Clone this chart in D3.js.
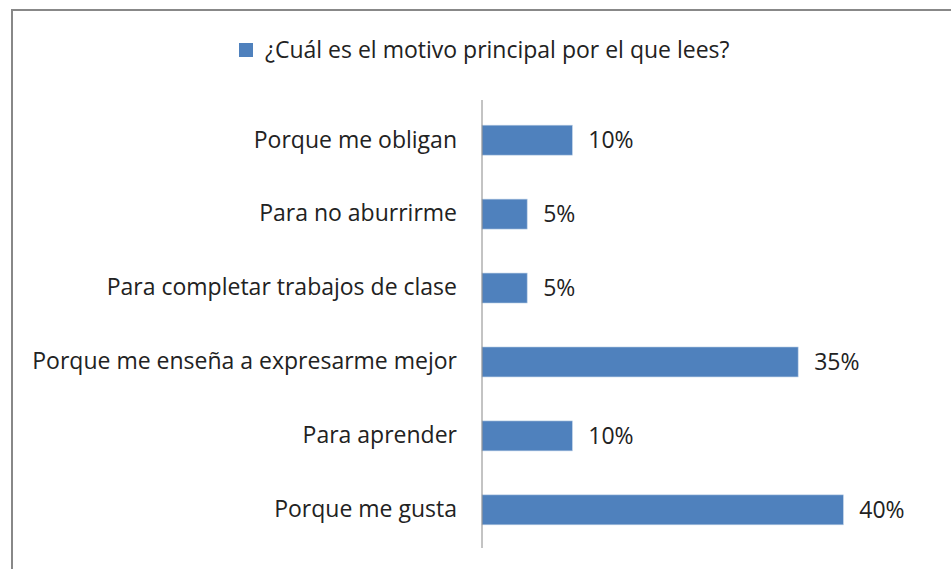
<!DOCTYPE html>
<html>
<head>
<meta charset="utf-8">
<script src="https://cdn.jsdelivr.net/npm/d3@7"></script>
<style>
  body { margin: 0; background: #fff; }
  text { font-family: "Open Sans", sans-serif; fill: #222; }
</style>
</head>
<body>
<div id="chart"></div>
<script>
// datos
var categorias = ["Porque me obligan", "Para no aburrirme", "Para completar trabajos de clase",
                  "Porque me enseña a expresarme mejor", "Para aprender", "Porque me gusta"];
var porcentajes = [10, 5, 5, 35, 10, 40];
var serie = "¿Cuál es el motivo principal por el que lees?";

var width = 951, height = 569;
var tamFuente = "23px";

var svg = d3.select("#chart").append("svg")
    .attr("width", width)
    .attr("height", height);

// marco del grafico
svg.append("rect")
    .attr("x", 12).attr("y", 10)
    .attr("width", 960).attr("height", 580)
    .attr("fill", "none")
    .attr("stroke", "#888")
    .attr("stroke-width", 2);

var x = d3.scaleLinear().domain([0, 40]).range([482, 843.3]);
var y = d3.scaleBand().domain(categorias).range([103, 547]).paddingInner(0.595).paddingOuter(0.3);

// leyenda
var leyenda = svg.append("g");
leyenda.append("rect")
    .attr("x", 239).attr("y", 43)
    .attr("width", 14).attr("height", 14)
    .attr("fill", "#4F81BD");
leyenda.append("text")
    .attr("x", 265).attr("y", 50)
    .attr("dy", "0.35em")
    .style("font-size", tamFuente)
    .text(serie);

// barras
svg.append("g")
  .selectAll("rect")
  .data(porcentajes)
  .enter()
  .append("rect")
    .attr("x", x(0))
    .attr("y", (d, i) => y(categorias[i]))
    .attr("width", d => x(d) - x(0))
    .attr("height", y.bandwidth())
    .attr("fill", "#4F81BD")
    .attr("stroke", "#b9cde5")
    .attr("stroke-width", 0.6);

// eje vertical
var eje = svg.append("g")
    .attr("transform", "translate(" + x(0) + ",0)")
    .call(d3.axisLeft(y).tickSize(0).tickPadding(25));
eje.select(".domain").attr("stroke", "#888").attr("d", "M0,100V548");
eje.selectAll("text")
    .style("font-size", tamFuente)
    .attr("fill", "#222")
    .style("font-family", "'Open Sans', sans-serif");

// etiquetas de valores
svg.append("g")
  .selectAll("text")
  .data(porcentajes)
  .enter()
  .append("text")
    .attr("x", d => x(d) + 16)
    .attr("y", (d, i) => y(categorias[i]) + y.bandwidth() / 2)
    .attr("dy", "0.35em")
    .style("font-size", tamFuente)
    .text(d => d + "%");
</script>
</body>
</html>
